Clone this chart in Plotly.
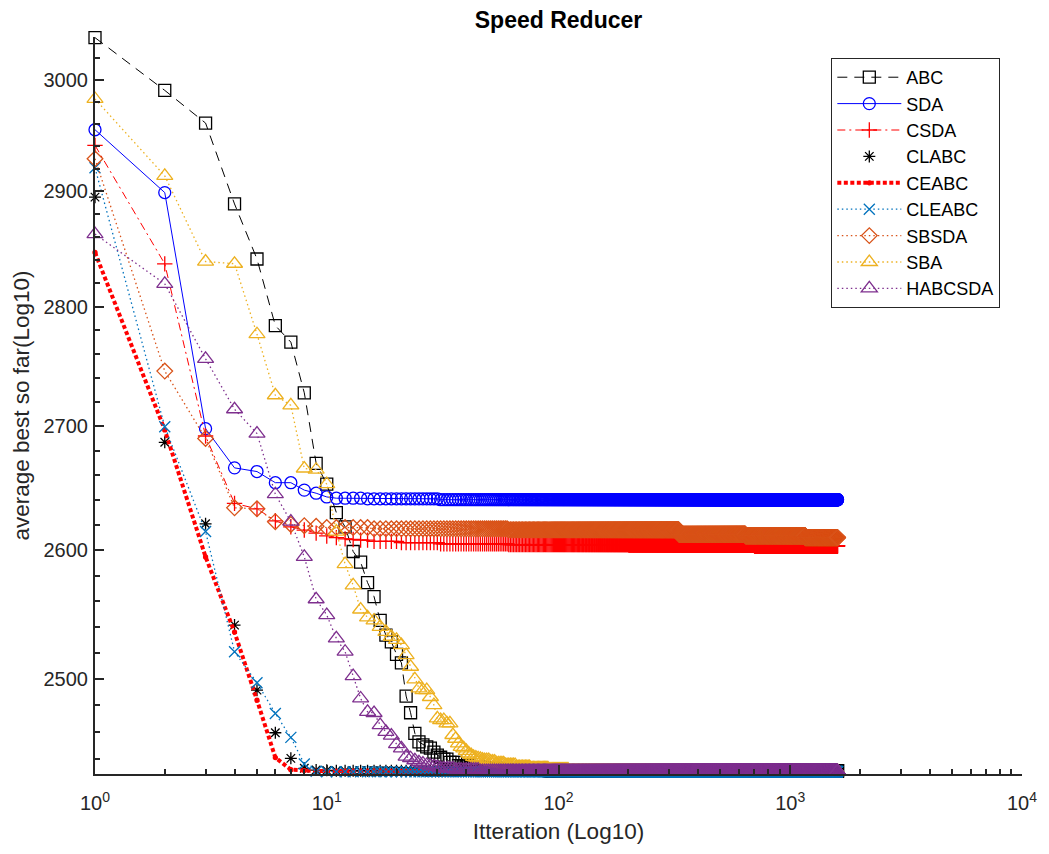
import plotly.graph_objects as go

N_ITER = 1600

# Best-so-far values read at the first iterations (iteration 1, 2, 3, ...)
abc_head = [3039, 2990.6, 2961, 2889, 2841, 2784, 2770, 2727.6, 2669.7, 2652.8,
            2630, 2618.6, 2599, 2590.6, 2574.5, 2563.5, 2545, 2533.7, 2528.5, 2518.9,
            2512.4, 2487.1, 2474.5, 2459, 2452.7, 2450.5, 2449, 2448, 2445, 2442.8]
sda_head = [2955, 2899, 2698, 2666, 2663, 2654, 2654, 2648, 2645.5, 2642.5]
csda_head = [2941, 2836.8, 2692, 2637.3, 2633, 2623.4, 2618.6, 2616, 2613.6, 2611.3]
clabc_head = [2895, 2686.8, 2621, 2541.4, 2491.6, 2459.5, 2440.4, 2433, 2431.7, 2431.5]
ceabc_head = [2846.6, 2697, 2594.7, 2536, 2484, 2441, 2432, 2431.3]
cleabc_head = [2921, 2699.6, 2614.8, 2520.9, 2497.2, 2474, 2456, 2436.2, 2430.8]
sbsda_head = [2929, 2745.7, 2690, 2633.8, 2633, 2622.7, 2620.5, 2619.5, 2619]
sba_head = [2982.8, 2913.8, 2838.8, 2836.9, 2776.7, 2725.6, 2717.2, 2665.5, 2664.5, 2652.8,
            2614.8, 2589, 2572.4, 2553.5, 2547.4, 2545, 2540.1, 2536.2, 2532.4, 2530,
            2526, 2518.3, 2509.4, 2499.8, 2492.9, 2491.6, 2491.6, 2486.4, 2480.3, 2470.3,
            2469, 2469, 2466.5, 2466.5, 2457.8, 2455, 2451.6, 2449, 2447.8, 2446,
            2444, 2442.8, 2441.5, 2441, 2440.4, 2440, 2439.5, 2439.1, 2439.1, 2439.1]
habcsda_head = [2862.6, 2819.6, 2756, 2714, 2694, 2644.7, 2622.7, 2594.7, 2561.5, 2549.2,
                2531.2, 2520.9, 2502.3, 2485.3, 2475.2, 2474.3, 2465.2, 2460.2, 2457.4, 2451,
                2447.8, 2441.7, 2440.5, 2439, 2437.5, 2436.5, 2435.5, 2435, 2434.5, 2434]

# Later plateaus: (value held, last iteration at that value)
abc_tail = [(2441.2, 31), (2439.8, 33), (2437.4, 36), (2435, 41), (2433.8, 46),
            (2432.9, 55), (2432, 90), (2431.2, N_ITER)]
sda_tail = [(2641.5, 14), (2641, 30), (2640.3, N_ITER)]
csda_tail = [(2610, 11), (2609, 12), (2608.5, 13), (2608, 15), (2607, 20), (2606, 30),
             (2605, 60), (2604.5, 200), (2604, 700), (2603.5, N_ITER)]
clabc_tail = [(2431.2, N_ITER)]
ceabc_tail = [(2431, N_ITER)]
cleabc_tail = [(2430.5, N_ITER)]
sbsda_tail = [(2618, 15), (2617, 60), (2616.3, 330), (2612.7, 640), (2611.5, 1160),
              (2610, N_ITER)]
sba_tail = [(2438, 53), (2436.7, 58), (2435.5, 65), (2434, 75), (2433, 90), (2432, 110),
            (2431, N_ITER)]
habcsda_tail = [(2433, 35), (2432, 45), (2431, N_ITER)]


def expand(head, tail):
    """Best-so-far curve: explicit early values, then each plateau held."""
    vals = list(head)
    for value, last in tail:
        vals.extend([value] * (last - len(vals)))
    return list(range(1, len(vals) + 1)), vals


C_BLACK = "#000000"
C_BLUE = "#0000FF"
C_RED = "#FF0000"
C_MBLUE = "#0072BD"
C_ORANGE = "#D95319"
C_YELLOW = "#EDB120"
C_PURPLE = "#7E2F8E"

series = [
    ("ABC", abc_head, abc_tail, "lines+markers", C_BLACK, "10px,7px", 1.0, "square-open", 12),
    ("SDA", sda_head, sda_tail, "lines+markers", C_BLUE, "solid", 1.0, "circle-open", 12),
    ("CSDA", csda_head, csda_tail, "lines+markers", C_RED, "8px,4px,2px,4px", 1.0, "cross-thin-open", 11),
    ("CLABC", clabc_head, clabc_tail, "markers", C_BLACK, "solid", 1.0, "asterisk-open", 10),
    ("CEABC", ceabc_head, ceabc_tail, "lines+markers", C_RED, "4px,2.5px", 4.0, "circle", 4),
    ("CLEABC", cleabc_head, cleabc_tail, "lines+markers", C_MBLUE, "1.5px,3px", 1.3, "x-thin-open", 11),
    ("SBSDA", sbsda_head, sbsda_tail, "lines+markers", C_ORANGE, "1.5px,3px", 1.3, "diamond-open", 12),
    ("SBA", sba_head, sba_tail, "lines+markers", C_YELLOW, "1.5px,3px", 1.3, "triangle-up-open", 14),
    ("HABCSDA", habcsda_head, habcsda_tail, "lines+markers", C_PURPLE, "1.5px,3px", 1.3, "triangle-up-open", 14),
]

fig = go.Figure()
for name, head, tail, mode, color, dash, lw, symbol, msize in series:
    x, y = expand(head, tail)
    fig.add_trace(go.Scatter(
        x=x, y=y, name=name, mode=mode,
        line=dict(color=color, width=lw, dash=dash),
        marker=dict(symbol=symbol, size=msize, color=color,
                    line=dict(color=color, width=1.3)),
        cliponaxis=False,
    ))

AXIS_COLOR = "#262626"
FONT = "Liberation Sans, Arial, sans-serif"

y_major = list(range(2500, 3001, 100))
y_minor = [v for v in range(2440, 3040, 20) if v % 100 != 0]
x_major = [1, 10, 100, 1000, 10000]
x_minor = [m * 10 ** k for k in range(4) for m in range(2, 10)]

fig.update_layout(
    width=1049, height=854,
    margin=dict(l=95, r=21, t=37, b=80),
    paper_bgcolor="white", plot_bgcolor="white",
    font=dict(family=FONT, size=20, color=AXIS_COLOR),
    title=dict(text="<b>Speed Reducer</b>", x=0.5, xref="paper", xanchor="center",
               y=1 - 20 / 854, yanchor="middle",
               font=dict(family=FONT, size=23, color="#000000")),
    showlegend=True,
    legend=dict(x=0.7943, y=0.9715, xanchor="left", yanchor="top",
                bgcolor="white", bordercolor=AXIS_COLOR, borderwidth=1,
                font=dict(family=FONT, size=18, color="#000000"),
                itemwidth=64),
    xaxis=dict(
        type="log", range=[0, 4],
        showline=True, linecolor=AXIS_COLOR, linewidth=2, mirror=False,
        showgrid=False, zeroline=False,
        ticks="inside", ticklen=9, tickwidth=1.5, tickcolor=AXIS_COLOR,
        tickmode="array", tickvals=x_major,
        ticktext=["10<sup>%d</sup>" % k for k in range(5)],
        ticklabelstandoff=10,
        tickfont=dict(family=FONT, size=20, color=AXIS_COLOR),
        minor=dict(tickmode="array", tickvals=x_minor, ticks="inside", ticklen=5,
                   tickwidth=1.5, tickcolor=AXIS_COLOR, showgrid=False),
        title=dict(text="Itteration (Log10)", standoff=10,
                   font=dict(family=FONT, size=22.5, color=AXIS_COLOR)),
    ),
    yaxis=dict(
        type="log", range=[3.385392, 3.482816],
        showline=True, linecolor=AXIS_COLOR, linewidth=2, mirror=False,
        showgrid=False, zeroline=False,
        ticks="inside", ticklen=9, tickwidth=1.5, tickcolor=AXIS_COLOR,
        tickmode="array", tickvals=y_major, ticktext=[str(v) for v in y_major],
        ticklabelstandoff=1,
        tickfont=dict(family=FONT, size=20, color=AXIS_COLOR),
        minor=dict(tickmode="array", tickvals=y_minor, ticks="inside", ticklen=5,
                   tickwidth=1.5, tickcolor=AXIS_COLOR, showgrid=False),
        title=dict(text="average best so far(Log10)", standoff=8,
                   font=dict(family=FONT, size=22.5, color=AXIS_COLOR)),
    ),
)

fig.write_html("out.html")
